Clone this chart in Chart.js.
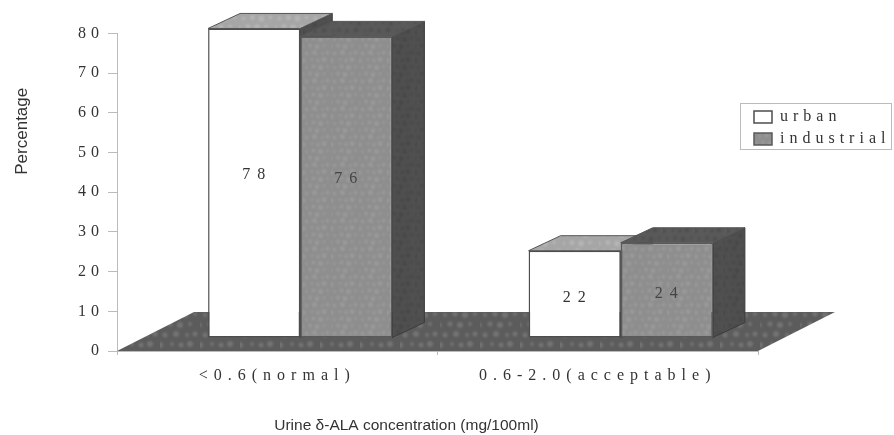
<!DOCTYPE html>
<html>
<head>
<meta charset="utf-8">
<style>html,body{margin:0;padding:0;background:#fff}canvas{display:block}</style>
<script src="https://cdn.jsdelivr.net/npm/chart.js@4"></script>
</head>
<body>
<canvas id="c" width="894" height="435"></canvas>
<script>
const categories = ['<0.6(normal)', '0.6-2.0(acceptable)'];
const urban = [78, 22];
const industrial = [76, 24];
const seriesNames = ['urban', 'industrial'];
const yTicks = [0, 10, 20, 30, 40, 50, 60, 70, 80];
const xTitle = 'Urine \u03B4-ALA concentration (mg/100ml)';
const yTitle = 'Percentage';

const INK = '#333333', SERIF = '"Liberation Serif"', SANS = '"Liberation Sans"';
const SHIFT = {x: 23, y: -13}, DEPTH = {x: 32, y: -15}, FLOOR = {x: 77, y: -39};

function texture(base, spot, step, r, alpha) {
  const t = document.createElement('canvas');
  t.width = t.height = step * 4;
  const g = t.getContext('2d');
  g.fillStyle = base; g.fillRect(0, 0, t.width, t.height);
  g.fillStyle = spot; g.globalAlpha = alpha; g.filter = 'blur(1px)';
  for (let i = 0; i < 4; i++) for (let j = 0; j < 4; j++) {
    g.beginPath();
    g.arc((i + (j % 2) * .5) * step + (i * j % 3), (j + .5) * step - (i % 2), r + ((i + j) % 3) * .5, 0, 7);
    g.fill();
  }
  return document.createElement('canvas').getContext('2d').createPattern(t, 'repeat');
}
const floorFill = texture('#5c5c5c', '#7c7c7c', 10, 2, .75);
const frontFill = texture('#8e8e8e', '#a2a2a2', 7, 1.5, .6);
const topFill = texture('#a6a6a6', '#c0c0c0', 9, 2, .6);
const darkFill = texture('#505050', '#424242', 7, 1.5, .6);
const darkTop = texture('#5a5a5a', '#474747', 8, 1.5, .6);

function poly(ctx, pts, fill, stroke) {
  ctx.beginPath();
  pts.forEach((p, i) => i ? ctx.lineTo(p[0], p[1]) : ctx.moveTo(p[0], p[1]));
  ctx.closePath();
  ctx.fillStyle = fill; ctx.fill();
  if (stroke) { ctx.strokeStyle = stroke; ctx.lineWidth = 1; ctx.stroke(); }
}
function spaced(obj, name, ctx, sp, dx, dy) {
  const orig = obj[name];
  obj[name] = function () {
    ctx.save();
    ctx.letterSpacing = sp;
    ctx.translate(dx || 0, dy || 0);
    orig.apply(this, arguments);
    ctx.restore();
  };
}

const look3d = {
  id: 'look3d',
  afterLayout(chart) {
    const l = chart.legend;
    l.left = 748; l.top = 103; l.right = 892; l.bottom = 300; l.width = 144; l.height = 197;
    if (!chart.$wrapped) {
      chart.$wrapped = true;
      const ctx = chart.ctx;
      spaced(chart.scales.y, 'drawLabels', ctx, '5px');
      spaced(chart.scales.x, 'drawLabels', ctx, '6px');
      spaced(chart.scales.y, 'drawTitle', ctx, '0px', 12, -61);
      spaced(chart.scales.x, 'drawTitle', ctx, '0px', -31, 0);
      spaced(l, 'draw', ctx, '5px');
    }
  },
  beforeDatasetsDraw(chart) {
    const ctx = chart.ctx, xs = chart.scales.x, ys = chart.scales.y;
    const b = ys.getPixelForValue(0);
    poly(ctx, [[xs.left, b], [xs.right, b], [xs.right + FLOOR.x, b + FLOOR.y], [xs.left + FLOOR.x, b + FLOOR.y]], floorFill);
    ctx.save();
    ctx.translate(SHIFT.x, SHIFT.y);
    chart.data.datasets.forEach((ds, i) => {
      chart.getDatasetMeta(i).data.forEach(bar => {
        const l = bar.x - bar.width / 2, r = bar.x + bar.width / 2, t = bar.y, bt = bar.base;
        poly(ctx, [[r, t], [r + DEPTH.x, t + DEPTH.y], [r + DEPTH.x, bt + DEPTH.y], [r, bt]], darkFill, '#3c3c3c');
        poly(ctx, [[l, t], [l + DEPTH.x, t + DEPTH.y], [r + DEPTH.x, t + DEPTH.y], [r, t]], i ? darkTop : topFill, '#555');
      });
    });
  },
  afterDatasetsDraw(chart) {
    const ctx = chart.ctx;
    ctx.restore();
    ctx.save();
    ctx.font = '16px ' + SERIF;
    ctx.letterSpacing = '7px';
    ctx.textAlign = 'center';
    ctx.textBaseline = 'middle';
    chart.data.datasets.forEach((ds, i) => {
      chart.getDatasetMeta(i).data.forEach((bar, j) => {
        const mid = (bar.y + bar.base) / 2 + SHIFT.y;
        ctx.fillStyle = i ? '#444' : INK;
        ctx.fillText(String(ds.data[j]), bar.x + SHIFT.x + 3, mid + 9 - .22 * ds.data[j]);
      });
    });
    ctx.restore();
    ctx.strokeStyle = '#bbb'; ctx.lineWidth = 1;
    ctx.strokeRect(740.5, 103.5, 151, 46);
  }
};

new Chart(document.getElementById('c'), {
  type: 'bar',
  data: {
    labels: categories,
    datasets: [
      {label: seriesNames[0], data: urban, backgroundColor: '#ffffff', borderColor: '#4d4d4d', borderWidth: 1.5, borderSkipped: false},
      {label: seriesNames[1], data: industrial, backgroundColor: frontFill, borderColor: '#5a5a5a', borderWidth: 1.5, borderSkipped: false}
    ]
  },
  options: {
    responsive: false,
    devicePixelRatio: 1,
    animation: false,
    layout: {padding: {left: 0, right: 136, top: 33.5, bottom: 0}},
    datasets: {bar: {categoryPercentage: .575, barPercentage: 1}},
    plugins: {
      tooltip: {enabled: false},
      legend: {
        position: 'chartArea',
        align: 'start',
        labels: {boxWidth: 18, boxHeight: 12, padding: 6, color: INK, font: {family: SERIF, size: 16}}
      }
    },
    scales: {
      x: {
        afterFit(s) { s.height = 84; },
        grid: {display: true, drawOnChartArea: false, tickLength: 4, color: '#bbb'},
        border: {color: '#bbb'},
        ticks: {color: INK, maxRotation: 0, padding: 11, font: {family: SERIF, size: 16}},
        title: {display: true, text: xTitle, color: INK, padding: {top: 20, bottom: 0}, font: {family: SANS, size: 15.5}}
      },
      y: {
        min: 0,
        max: 80,
        afterFit(s) { s.width = 117; },
        afterBuildTicks(s) { s.ticks = yTicks.map(v => ({value: v})); },
        grid: {display: true, drawOnChartArea: false, tickLength: 9, color: '#bbb'},
        border: {color: '#bbb'},
        ticks: {color: INK, padding: 4, font: {family: SERIF, size: 16}},
        title: {display: true, text: yTitle, color: INK, padding: {top: 0, bottom: 0}, font: {family: SANS, size: 17}}
      }
    }
  },
  plugins: [look3d]
});
</script>
</body>
</html>
